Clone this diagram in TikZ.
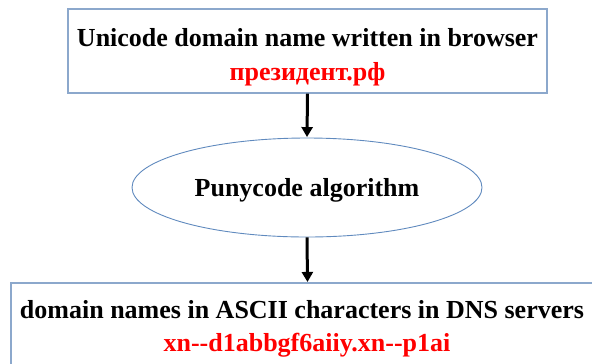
\documentclass[tikz,border=0pt]{standalone}
\usepackage{fontspec}
\setmainfont{Liberation Serif}[Ligatures=NoCommon]
\usetikzlibrary{shapes.geometric,arrows.meta}
\definecolor{boxblue}{RGB}{140,168,204}
\definecolor{ellblue}{RGB}{96,138,190}
\tikzset{
  box/.style={draw=boxblue, line width=1.1bp, fill=white, rectangle, inner sep=0pt},
  oval/.style={draw=ellblue, line width=0.9bp, ellipse, inner sep=0pt,
    minimum width=350bp, minimum height=99bp},
  label/.style={font=\bfseries\fontsize{26bp}{34bp}\selectfont, inner sep=0pt, anchor=base},
  redlabel/.style={label, text=red},
  arr/.style={-{Triangle[length=10bp,width=11bp]}, line width=3bp, black, shorten >=0.5bp}
}
\begin{document}
\begin{tikzpicture}[x=1bp,y=-1bp]
  \useasboundingbox (0,0) rectangle (592,363);
  \clip (0,0) rectangle (592,363);
  % input box
  \node[box, minimum width=479bp, minimum height=84bp] (top) at (307.5,51) {};
  \node[label] (topline) at (307.5,46) {Unicode domain name written in browser};
  \node[redlabel] (toprus) at (307.5,80) {президент.рф};
  % conversion step
  \node[oval] (algo) at (307,187.5) {};
  \node[label] (algoline) at (307,196) {Punycode algorithm};
  % output box, running past the lower and right edges
  \node[box, minimum width=593bp, minimum height=120bp] (bottom) at (307.5,343) {};
  \node[label] (botline) at (302,318) {domain names in ASCII characters in DNS servers};
  \node[redlabel] (botcode) at (307,351) {xn{-}{-}d1abbgf6aiiy.xn{-}{-}p1ai};
  % flow
  \draw[arr] (top.south) -- (algo.north);
  \draw[arr] (algo.south) -- (bottom.north);
\end{tikzpicture}
\end{document}
